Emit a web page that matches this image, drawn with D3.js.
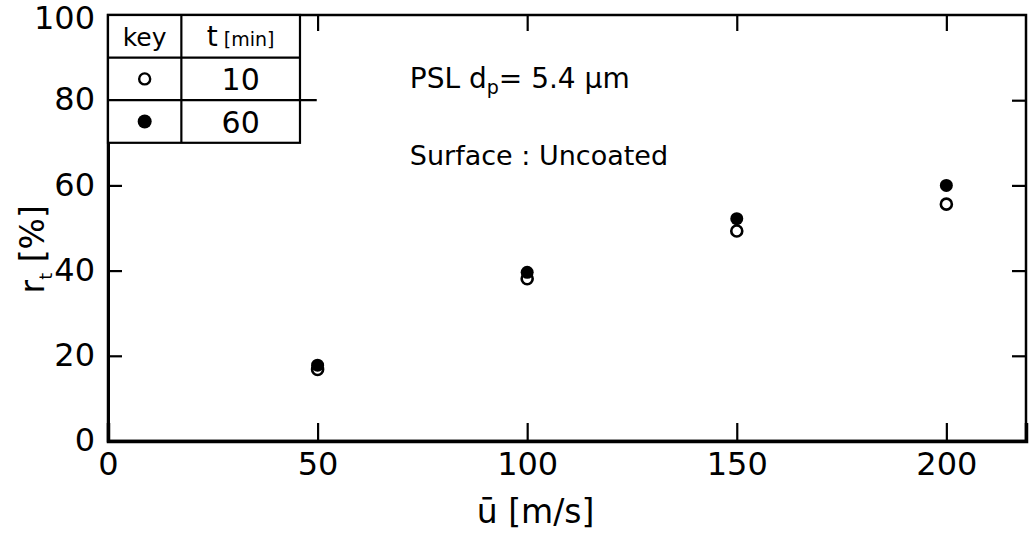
<!DOCTYPE html>
<html>
<head>
<meta charset="utf-8">
<script src="https://cdn.jsdelivr.net/npm/d3@7"></script>
<style>
  body { margin: 0; background: #fff; }
  svg { font-family: "DejaVu Sans", sans-serif; }
  .axis path, .axis line { stroke: #000; }
  .axis text { font-family: "DejaVu Sans", sans-serif; fill: #000; }
</style>
</head>
<body>
<div id="chart"></div>
<script>
// data
const speeds = [50, 100, 150, 200]
const r10 = [16.8, 38.1, 49.3, 55.6]   // t = 10 min, open
const r60 = [17.8, 39.6, 52.2, 60.0]   // t = 60 min, filled
const xTicks = [0, 50, 100, 150, 200]
const yTicks = [0, 20, 40, 60, 80, 100]
const keyRows = [
  { filled: false, t: '10' },
  { filled: true, t: '60' }
]

function draw() {
  let dimensions = {
    width: 1033,
    height: 534,
    margin: { top: 15, right: 7, bottom: 93, left: 108 }
  }
  const m = dimensions.margin
  const innerW = dimensions.width - m.left - m.right
  const innerH = dimensions.height - m.top - m.bottom

  const svg = d3.select('#chart')
    .append('svg')
    .attr('width', dimensions.width)
    .attr('height', dimensions.height)

  const g = svg.append('g')
    .attr('transform', `translate(${m.left},${m.top})`)

  //scales
  const x = d3.scaleLinear().domain([0, 219]).range([0, innerW])
  const y = d3.scaleLinear().domain([0, 100]).range([innerH, 0])

  //frame
  g.append('rect')
    .attr('width', innerW)
    .attr('height', innerH)
    .attr('fill', 'none')
    .attr('stroke', '#000')
    .attr('stroke-width', 2.5)

  //axes, ticks inward
  const xAxis = g.append('g')
    .attr('class', 'axis')
    .attr('transform', `translate(0,${innerH})`)
    .call(d3.axisBottom(x).tickValues(xTicks).tickSize(-18).tickPadding(10))
  xAxis.select('.domain').attr('stroke-width', 3.5)
  xAxis.selectAll('text').attr('font-size', 32).attr('dy', '0.75em')

  const yAxis = g.append('g')
    .attr('class', 'axis')
    .call(d3.axisLeft(y).tickValues(yTicks).tickSize(-14).tickPadding(13))
  yAxis.select('.domain').attr('stroke-width', 3)
  yAxis.selectAll('text')
    .attr('font-size', 32)
    .attr('dy', d => d === 100 ? '0.42em' : '0.3em')

  g.append('g')
    .attr('class', 'axis')
    .call(d3.axisTop(x).tickValues(xTicks.slice(1)).tickSize(-16).tickFormat(''))
  g.append('g')
    .attr('class', 'axis')
    .attr('transform', `translate(${innerW},0)`)
    .call(d3.axisRight(y).tickValues(yTicks.slice(1, 5)).tickSize(-14).tickFormat(''))

  g.selectAll('.axis .tick line').attr('stroke-width', 2.2)

  //axis titles
  const xt = svg.append('text')
    .attr('x', m.left + x(102))
    .attr('y', 523)
    .attr('font-size', 33)
    .attr('text-anchor', 'middle')
  xt.append('tspan').text('ū [m/s]')

  const yt = svg.append('text')
    .attr('transform', `translate(44,${m.top + y(45)}) rotate(-90)`)
    .attr('font-size', 33)
    .attr('text-anchor', 'middle')
  yt.append('tspan').text('r')
  yt.append('tspan').attr('font-size', 18).attr('dy', 8).text('t')
  yt.append('tspan').attr('dy', -8).text(' [%]')

  //points
  const pts = g.append('g')
  pts.selectAll('circle.open')
    .data(speeds)
    .join('circle')
    .attr('class', 'open')
    .attr('cx', d => x(d))
    .attr('cy', (d, i) => y(r10[i]))
    .attr('r', 5.5)
    .attr('fill', '#fff')
    .attr('stroke', '#000')
    .attr('stroke-width', 2.6)
  pts.selectAll('circle.fill')
    .data(speeds)
    .join('circle')
    .attr('class', 'fill')
    .attr('cx', d => x(d))
    .attr('cy', (d, i) => y(r60[i]))
    .attr('r', 6.5)
    .attr('fill', '#000')

  //annotation
  const a1 = g.append('text')
    .attr('x', x(72))
    .attr('y', y(80) - 12)
    .attr('font-size', 28)
  a1.append('tspan').text('PSL  d')
  a1.append('tspan').attr('font-size', 19).attr('dy', 6).text('p')
  a1.append('tspan').attr('dy', -6).text('= 5.4 μm')

  g.append('text')
    .attr('x', x(72))
    .attr('y', y(62) - 12)
    .attr('font-size', 27)
    .text('Surface : Uncoated')

  //key table
  const colX = [0, x(17.5), x(45.8)]
  const rowY = [0, y(90), y(80), y(70)]
  const key = g.append('g')
  key.append('rect')
    .attr('width', colX[2])
    .attr('height', rowY[3])
    .attr('fill', '#fff')
    .attr('stroke', '#000')
    .attr('stroke-width', 2.2)
  key.append('line')
    .attr('x1', colX[1]).attr('x2', colX[1])
    .attr('y1', 0).attr('y2', rowY[3])
    .attr('stroke', '#000').attr('stroke-width', 2.2)
  key.selectAll('line.row')
    .data([rowY[1], rowY[2]])
    .join('line')
    .attr('class', 'row')
    .attr('x1', 0)
    .attr('x2', (d, i) => i === 1 ? x(49.8) : colX[2])
    .attr('y1', d => d).attr('y2', d => d)
    .attr('stroke', '#000').attr('stroke-width', 2.2)

  key.append('text')
    .attr('x', colX[1] / 2)
    .attr('y', rowY[1] - 12)
    .attr('text-anchor', 'middle')
    .attr('font-size', 25)
    .text('key')
  const th = key.append('text')
    .attr('x', (colX[1] + colX[2]) / 2)
    .attr('y', rowY[1] - 12)
    .attr('text-anchor', 'middle')
    .attr('font-size', 28)
  th.append('tspan').text('t')
  th.append('tspan').attr('font-size', 19).text(' [min]')

  keyRows.forEach((d, i) => {
    const cy = (rowY[i + 1] + rowY[i + 2]) / 2
    key.append('circle')
      .attr('cx', colX[1] / 2)
      .attr('cy', cy)
      .attr('r', d.filled ? 7 : 5.5)
      .attr('fill', d.filled ? '#000' : '#fff')
      .attr('stroke', '#000')
      .attr('stroke-width', d.filled ? 0 : 2.4)
    key.append('text')
      .attr('x', (colX[1] + colX[2]) / 2)
      .attr('y', cy + 11)
      .attr('text-anchor', 'middle')
      .attr('font-size', 30)
      .text(d.t)
  })
}

draw()
</script>
</body>
</html>
